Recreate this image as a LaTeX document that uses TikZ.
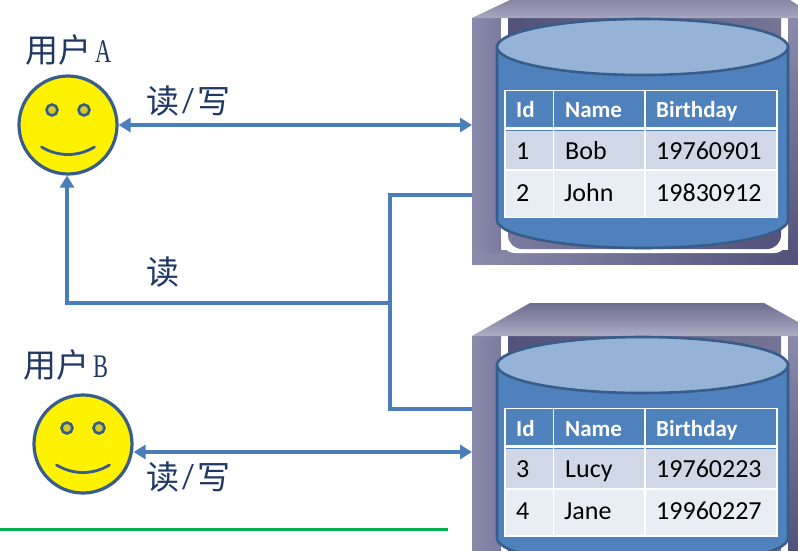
\documentclass[tikz,border=0pt]{standalone}
\usepackage{fontspec}
\setmainfont{Liberation Serif}
\newfontfamily\cjk{Noto Sans CJK SC}
\newfontfamily\tablefont{Carlito}
\usetikzlibrary{arrows.meta}
\definecolor{linkblue}{HTML}{4A7EBB}
\definecolor{cylblue}{HTML}{4F81BD}
\definecolor{cyltop}{HTML}{95B3D7}
\definecolor{cyledge}{HTML}{385D8A}
\definecolor{rowa}{HTML}{D0D8E8}
\definecolor{rowb}{HTML}{E9EDF4}
\definecolor{labelnavy}{HTML}{1F3864}
\definecolor{postlight}{HTML}{8A8AAC}
\definecolor{postmid}{HTML}{7B7BA0}
\definecolor{postdark}{HTML}{52527A}
\definecolor{greenrule}{HTML}{00B050}
\tikzset{
  x=1pt,y=-1pt,
  link/.style={draw=linkblue,line width=4.2pt},
  tip/.style={-{Triangle[length=12pt,width=14pt]}},
  tips/.style={{Triangle[length=12pt,width=14pt]}-{Triangle[length=12pt,width=14pt]}},
  face/.style={circle,draw=cyledge,fill=yellow,line width=3.2pt,minimum size=98pt,inner sep=0pt},
  eye/.style={circle,draw=cyledge,fill=yellow!80!black,line width=2.6pt,minimum size=11pt,inner sep=0pt},
  mouth/.style={draw=cyledge,line width=2.8pt,line cap=round},
  who/.style={text=labelnavy,inner sep=0pt,anchor=base west,font=\fontsize{33}{33}\selectfont},
  hdr/.style={text=white,inner sep=0pt,anchor=base west,font=\tablefont\bfseries\fontsize{23}{23}\selectfont},
  cell/.style={text=black,inner sep=0pt,anchor=base west,font=\tablefont\fontsize{26}{26}\selectfont},
  cylline/.style={draw=cyledge,line width=2.6pt},
  gridline/.style={draw=white,line width=1.2pt},
}
\newcommand{\narrowlatin}[1]{\hspace{4pt}\scalebox{0.68}[1]{#1}}
\newcommand{\rwtext}{{\cjk 读}\makebox[18pt]{\scalebox{1.3}[1.15]{/}}{\cjk 写}}
\newcommand{\tablerows}[5]{%
  % #1 top, #2 header bottom, #3 row a top, #4 row b top, #5 bottom
  \fill[cylblue] (505,#1) rectangle (777,#2);
  \fill[rowa] (505,#3) rectangle (777,#4);
  \fill[rowb] (505,#4) rectangle (777,#5);
  \draw[gridline] (505,#1) rectangle (777,#5);
  \draw[gridline,line width=3pt] (505,#2+1.5) -- (777,#2+1.5);
  \draw[gridline] (505,#4) -- (777,#4);
  \draw[gridline] (553.5,#1) -- (553.5,#5);
  \draw[gridline] (645,#1) -- (645,#5);
}
\begin{document}
\begin{tikzpicture}
\useasboundingbox (0,0) rectangle (798,550);
\clip (0,0) rectangle (798,550);
\fill[white] (0,0) rectangle (798,550);

% ---- upper database housing
\shade[top color=postlight,bottom color=postdark] (788,18) rectangle (798,264);
\shade[left color=postlight,right color=postdark] (472,250) rectangle (798,264);
\shade[left color=postlight,right color=postmid] (472,18) rectangle (501,252);
\fill[white] (501,21) rectangle (788,200);
\fill[white,rounded corners=14pt] (501,100) rectangle (788,253);
\shade[left color=postdark,right color=postdark!80!white] (508,18) rectangle (781,200);
\shade[left color=postmid,right color=postdark,rounded corners=14pt] (508,100) rectangle (781,249);
\shade[top color=postdark!70!white,bottom color=postlight!75!white] (472,18) -- (510,0) -- (790,0) -- (798,5) -- (798,18) -- cycle;
% upper cylinder
\draw[cylline,fill=cylblue] (497,47) -- (497,220) arc[start angle=180,end angle=360,x radius=145.5,y radius=-28] -- (788,47) -- cycle;
\draw[cylline,fill=cyltop] (642.5,47) ellipse[x radius=145.5,y radius=28];
\tablerows{90.5}{127}{131}{170}{217.5}
\node[hdr] (h1a) at (516,117.5) {Id};
\node[hdr] (h1b) at (565,117.5) {Name};
\node[hdr] (h1c) at (656,117.5) {Birthday};
\node[cell] (c1a) at (516,159) {1};
\node[cell] (c1b) at (565,159) {Bob};
\node[cell] (c1c) at (656,159) {19760901};
\node[cell] (c2a) at (516,201) {2};
\node[cell] (c2b) at (564,201) {John};
\node[cell] (c2c) at (656,201) {19830912};

% ---- lower database housing
\shade[left color=postlight,right color=postmid] (472,336) rectangle (501,550);
\shade[top color=postlight,bottom color=postdark] (788,336) rectangle (798,550);
\fill[white] (501,339) rectangle (788,550);
\shade[left color=postdark,right color=postdark!80!white] (508,336) rectangle (781,550);
\shade[top color=postdark!85!white,bottom color=postlight!70!white] (472,336) -- (530,303) -- (764,303) -- (798,322) -- (798,336) -- cycle;
% lower cylinder
\draw[cylline,fill=cylblue] (497,365) -- (497,538) arc[start angle=180,end angle=360,x radius=145.5,y radius=-28] -- (788,365) -- cycle;
\draw[cylline,fill=cyltop] (642.5,365) ellipse[x radius=145.5,y radius=28];
\tablerows{408.5}{445}{449}{489}{536}
\node[hdr] (h2a) at (516,436) {Id};
\node[hdr] (h2b) at (565,436) {Name};
\node[hdr] (h2c) at (656,436) {Birthday};
\node[cell] (d1a) at (516,477) {3};
\node[cell] (d1b) at (565,477) {Lucy};
\node[cell] (d1c) at (656,477) {19760223};
\node[cell] (d2a) at (516,519) {4};
\node[cell] (d2b) at (564,519) {Jane};
\node[cell] (d2c) at (656,519) {19960227};

% ---- faces
\node[face] (userA) at (68,125) {};
\node[eye] (eyeA1) at (52,110) {};
\node[eye] (eyeA2) at (84,110) {};
\draw[mouth] (41.5,147) .. controls (58,157) and (78,157) .. (94.5,147);
\node[face] (userB) at (83,444) {};
\node[eye] (eyeB1) at (67,428) {};
\node[eye] (eyeB2) at (99,428) {};
\draw[mouth] (56.5,465) .. controls (73,475) and (93,475) .. (109.5,465);

% ---- labels
\node[who] (nameA) at (25,62.5) {{\cjk 用户}\narrowlatin{A}};
\node[who] (nameB) at (23,377.5) {{\cjk 用户}\narrowlatin{B}};
\node[who] (rwA) at (146,113) {\rwtext};
\node[who] (rd) at (146,284) {\cjk 读};
\node[who] (rwB) at (146,489) {\rwtext};

% ---- connectors
\coordinate (db1rw) at (472,125);
\coordinate (db1out) at (472,195);
\coordinate (db2out) at (472,409);
\coordinate (db2rw) at (472,452);
\coordinate (busTop) at (390,195);
\coordinate (busBot) at (390,409);
\coordinate (busMid) at (390,303);
\coordinate (turn) at (67,303);
\coordinate (ruleL) at (0,529);
\coordinate (ruleR) at (448,529);
\draw[link,tips] (userA.east) -- (db1rw);
\draw[link,tips] (userB.east |- db2rw) -- (db2rw);
\draw[link] (db1out) -- (busTop) -- (busBot) -- (db2out);
\draw[link,tip] (busMid) -- (turn) -- (turn |- userA.south);
\draw[draw=greenrule,line width=3pt] (ruleL) -- (ruleR);
\end{tikzpicture}
\end{document}
